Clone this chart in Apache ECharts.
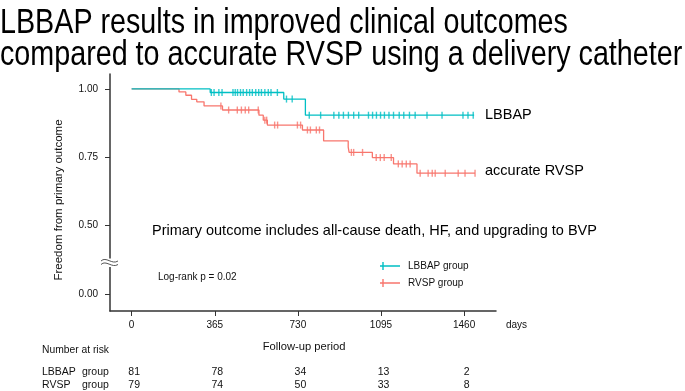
<!DOCTYPE html>
<html><head><meta charset="utf-8">
<script src="https://cdn.jsdelivr.net/npm/echarts@6/dist/echarts.min.js"></script>
<style>html,body{margin:0;padding:0;background:#fff}#c{width:685px;height:391px}</style>
</head><body><div id="c"></div>
<script>
// ---- data ----
const titleLines = ['LBBAP results in improved clinical outcomes', 'compared to accurate RVSP using a delivery catheter'];
const seriesNames = ['LBBAP group', 'RVSP group'];
const lbbapTimes = [0, 345, 668, 763, 1504];
const lbbapSurv  = [1.0, 0.987, 0.963, 0.904, 0.904];
const lbbapCensor = [350, 362, 383, 397, 445, 455, 465, 478, 490, 505, 518, 530, 545, 558, 570, 585, 600, 612, 640, 680, 705, 780, 830, 888, 910, 930, 952, 975, 997, 1040, 1058, 1075, 1093, 1110, 1130, 1150, 1175, 1195, 1220, 1245, 1297, 1363, 1455, 1477, 1500];
const rvspTimes = [0, 208, 238, 263, 286, 318, 399, 559, 578, 596, 750, 843, 951, 955, 1057, 1150, 1253, 1508];
const rvspSurv  = [1.0, 0.989, 0.977, 0.962, 0.953, 0.938, 0.923, 0.904, 0.886, 0.868, 0.850, 0.810, 0.787, 0.768, 0.749, 0.726, 0.692, 0.692];
const rvspCensor = [392, 426, 464, 482, 499, 514, 556, 585, 593, 628, 641, 728, 742, 772, 785, 811, 825, 965, 975, 1014, 1074, 1092, 1109, 1140, 1171, 1188, 1206, 1223, 1267, 1302, 1320, 1333, 1377, 1434, 1464, 1508];
const xTicks = [0, 365, 730, 1095, 1460];
const yTickValues = [0.25, 0.5, 0.75, 1.0];   // 0.25 position shows the broken-axis "0.00"
const yTickLabels = ['0.00', '0.50', '0.75', '1.00'];
const riskTimes = [0, 365, 730, 1095, 1460];
const riskLBBAP = [81, 78, 34, 13, 2];
const riskRVSP  = [79, 74, 50, 33, 8];
const colors = ['#00BFC4', '#F8766D'];

function survAt(times, surv, t) {
  let s = surv[0];
  for (let i = 0; i < times.length; i++) if (times[i] <= t) s = surv[i];
  return s;
}
const FF = 'Liberation Sans, Arial, sans-serif';
const chart = echarts.init(document.getElementById('c'), null, {renderer: 'canvas'});

const option = {
  animation: false,
  backgroundColor: '#fff',
  grid: {left: 110, top: 74, width: 386, height: 237, containLabel: false},
  legend: {
    data: seriesNames, orient: 'vertical', left: 375, top: 256, itemGap: 7,
    itemWidth: 20, itemHeight: 8,
    icon: 'path://M0,3.3L20,3.3L20,4.7L0,4.7Z M2.3,0L3.7,0L3.7,8L2.3,8Z',
    textStyle: {fontSize: 10, fontFamily: FF, color: '#111', padding: [0, 0, 0, 3]}
  },
  xAxis: {
    type: 'value', min: -95, max: 1600,
    axisLine: {show: true, onZero: false, lineStyle: {color: '#333', width: 1.5}},
    axisTick: {show: true, customValues: xTicks, length: 5, lineStyle: {color: '#333', width: 1}},
    axisLabel: {customValues: xTicks, margin: 9, fontSize: 10, fontFamily: FF, color: '#111', formatter: v => String(v)},
    splitLine: {show: false}
  },
  yAxis: {
    type: 'value', min: 0.188, max: 1.0547,
    axisLine: {show: true, onZero: false, lineStyle: {color: '#333', width: 1.5}},
    axisTick: {show: true, customValues: yTickValues, length: 5, lineStyle: {color: '#333', width: 1}},
    axisLabel: {customValues: yTickValues, margin: 12, fontSize: 10, fontFamily: FF, color: '#111',
      formatter: v => { const i = yTickValues.findIndex(t => Math.abs(t - v) < 1e-9); return i >= 0 ? yTickLabels[i] : ''; }},
    splitLine: {show: false}
  },
  series: [
    {name: seriesNames[0], type: 'line', step: 'end', showSymbol: false, symbol: 'none', color: colors[0],
     lineStyle: {width: 1.3, color: colors[0]}, data: lbbapTimes.map((t, i) => [t, lbbapSurv[i]]), z: 3},
    {name: seriesNames[1], type: 'line', step: 'end', showSymbol: false, symbol: 'none', color: colors[1],
     lineStyle: {width: 1.3, color: colors[1]}, data: rvspTimes.map((t, i) => [t, rvspSurv[i]]), z: 2},
    {name: 'lbbapCensor', type: 'scatter', symbol: 'rect', symbolSize: [1.4, 7], itemStyle: {color: colors[0]},
     data: lbbapCensor.map(t => [t, survAt(lbbapTimes, lbbapSurv, t)]), z: 4},
    {name: 'rvspCensor', type: 'scatter', symbol: 'rect', symbolSize: [1.4, 7], itemStyle: {color: colors[1]},
     data: rvspCensor.map(t => [t, survAt(rvspTimes, rvspSurv, t)]), z: 4}
  ]
};
chart.setOption(option);

const txt = (text, x, y, size, extra) => Object.assign({type: 'text', x: x, y: y, z: 50,
  style: Object.assign({text: text, fontSize: size, fontFamily: FF, fill: '#111', align: 'left', verticalAlign: 'middle'}, extra || {})});

const graphics = [
  Object.assign(txt(titleLines[0], 0, 23, 35, {fill: '#000'}), {scaleX: 0.82}),
  Object.assign(txt(titleLines[1], 0, 55, 35, {fill: '#000'}), {scaleX: 0.82}),
  Object.assign(txt('Freedom from primary outcome', 59, 200, 11.5, {align: 'center'}), {rotation: Math.PI / 2}),
  txt('LBBAP', 485, 114.5, 14.5, {fill: '#000'}),
  txt('accurate RVSP', 485, 171, 14.5, {fill: '#000'}),
  txt('Primary outcome includes all-cause death, HF, and upgrading to BVP', 152, 231, 14.5, {fill: '#000'}),
  txt('Log-rank p = 0.02', 158, 277, 10),
  txt('days', 506, 325, 10),
  txt('Follow-up period', 304, 347, 11.2, {align: 'center'}),
  txt('Number at risk', 42, 350, 10.3),
  txt('LBBAP', 42, 372, 10.5), txt('group', 82, 372, 10.5),
  txt('RVSP', 42, 385, 10.5), txt('group', 82, 385, 10.5),
  // broken axis mark
  {type: 'rect', z: 60, shape: {x: 107, y: 258.5, width: 6, height: 8.5}, style: {fill: '#fff'}},
  {type: 'bezierCurve', z: 61, shape: {x1: 101, y1: 261, cpx1: 106, cpy1: 256, cpx2: 112, cpy2: 265, x2: 118, y2: 261}, style: {stroke: '#555', lineWidth: 1, fill: null}},
  {type: 'bezierCurve', z: 61, shape: {x1: 101, y1: 264.5, cpx1: 106, cpy1: 259.5, cpx2: 112, cpy2: 268.5, x2: 118, y2: 264.5}, style: {stroke: '#555', lineWidth: 1, fill: null}}
];
riskTimes.forEach((t, i) => {
  const px = chart.convertToPixel({xAxisIndex: 0}, t) + 2.5;
  graphics.push(txt(String(riskLBBAP[i]), px, 372, 10.5, {align: 'center'}));
  graphics.push(txt(String(riskRVSP[i]), px, 385, 10.5, {align: 'center'}));
});
chart.setOption({graphic: graphics});
</script></body></html>
